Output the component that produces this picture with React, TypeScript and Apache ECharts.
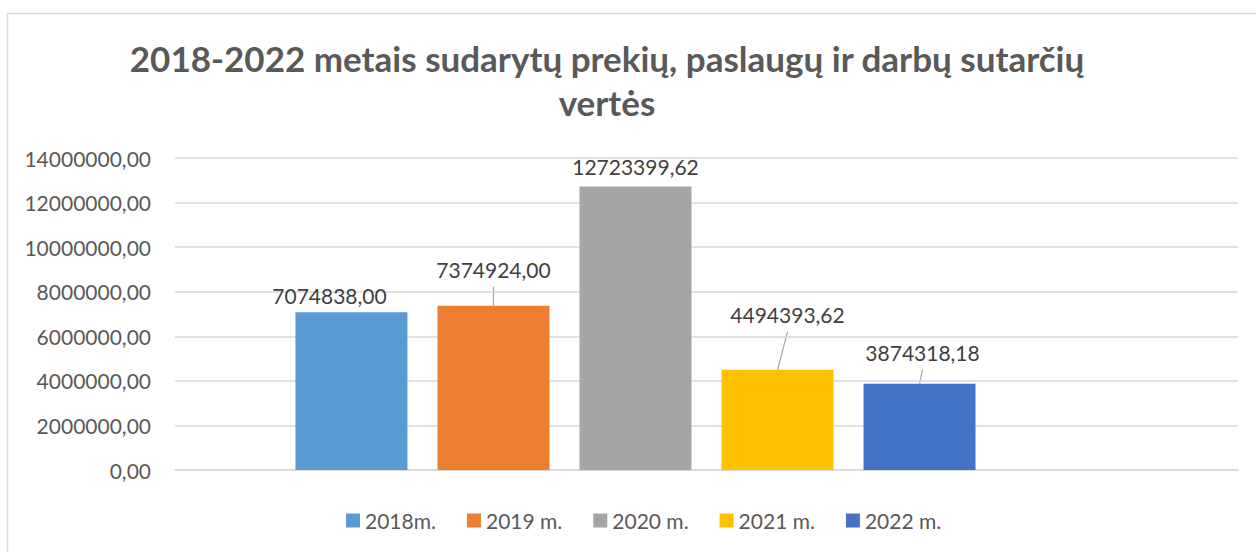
import React, { useEffect, useRef } from 'react';
import * as echarts from 'echarts';

const TITLE_LINES = ['2018-2022 metais sudarytų prekių, paslaugų ir darbų sutarčių', 'vertės'];
const CATEGORIES = [''];
const SERIES_NAMES = ['2018m.', '2019 m.', '2020 m.', '2021 m.', '2022 m.'];
const VALUES = [7074838.0, 7374924.0, 12723399.62, 4494393.62, 3874318.18];
const COLORS = ['#5b9bd5', '#ed7d31', '#a5a5a5', '#ffc000', '#4472c4'];
const Y_MIN = 0;
const Y_MAX = 14000000;
const Y_STEP = 2000000;

// label displacement (Excel moved labels) – layout only: [dx, dy, showLeader]
const LABEL_SHIFT: [number, number, boolean][] = [
  [-22, -1, false],
  [0, -21, true],
  [0, -4, false],
  [10, -40, true],
  [3, -16, true],
];

const fmt = (v: number) => v.toFixed(2).replace('.', ',');
const FONT = 'Lato, Carlito, "Noto Sans", sans-serif';

export default function App() {
  const ref = useRef<HTMLDivElement>(null);
  useEffect(() => {
    if (!ref.current) return;
    const chart = echarts.init(ref.current, undefined, { renderer: 'svg' });
    const series: any[] = SERIES_NAMES.map((name, i) => {
      const [dx, dy] = LABEL_SHIFT[i];
      return {
        name,
        type: 'bar',
        data: [VALUES[i]],
        barWidth: 112,
        barGap: '26.8%',
        itemStyle: { color: COLORS[i] },
        label: {
          show: true,
          position: 'top',
          distance: 5,
          formatter: (p: any) => fmt(p.value),
          color: '#404040',
          fontSize: 21,
          fontFamily: FONT,
        },
        labelLayout: { dx, dy },
      };
    });
    series.push({
      name: 'empty',
      type: 'bar',
      data: ['-'],
      barWidth: 112,
      barGap: '26.8%',
    });
    const baseGraphic: any[] = [
      {
        id: 'frame',
        type: 'rect',
        shape: { x: 7.5, y: 13.5, width: 1300, height: 600 },
        style: { fill: 'none', stroke: '#d9d9d9', lineWidth: 1.5 },
        silent: true,
      },
      {
        id: 'title1',
        type: 'text',
        x: 607,
        y: 58,
        style: {
          text: TITLE_LINES[0],
          fill: '#595959',
          font: `bold 35px ${FONT}`,
          textAlign: 'center',
          textVerticalAlign: 'middle',
        },
      },
      {
        id: 'title2',
        type: 'text',
        x: 607,
        y: 102,
        style: {
          text: TITLE_LINES[1],
          fill: '#595959',
          font: `bold 35px ${FONT}`,
          textAlign: 'center',
          textVerticalAlign: 'middle',
        },
      },
    ];
    chart.setOption({
      animation: false,
      textStyle: { fontFamily: FONT },
      graphic: baseGraphic,
      legend: {
        data: SERIES_NAMES,
        left: 341,
        top: 505,
        itemWidth: 14,
        itemHeight: 14,
        itemGap: 31,
        icon: 'rect',
        textStyle: { color: '#595959', fontSize: 21, fontFamily: FONT },
      },
      grid: { left: 175, right: 18, top: 158, bottom: 82, containLabel: false },
      xAxis: {
        type: 'category',
        data: CATEGORIES,
        axisLine: { show: true, lineStyle: { color: '#d9d9d9', width: 1.5 } },
        axisTick: { show: false },
        axisLabel: { show: false },
      },
      yAxis: {
        type: 'value',
        min: Y_MIN,
        max: Y_MAX,
        interval: Y_STEP,
        axisLine: { show: false },
        axisTick: { show: false },
        splitLine: { lineStyle: { color: '#d9d9d9', width: 1.5 } },
        axisLabel: {
          formatter: (v: number) => fmt(v),
          color: '#595959',
          fontSize: 21,
          fontFamily: FONT,
          margin: 24,
        },
      },
      series,
    });

    // leader lines from the bar tops (as laid out by ECharts) to the moved labels
    try {
      const model = (chart as any).getModel();
      const leaders: any[] = [];
      SERIES_NAMES.forEach((_, i) => {
        const [dx, dy, show] = LABEL_SHIFT[i];
        if (!show) return;
        const lay = model.getSeriesByIndex(i).getData().getItemLayout(0);
        if (!lay) return;
        const top = Math.min(lay.y, lay.y + lay.height);
        const cx = lay.x + lay.width / 2;
        leaders.push({
          id: 'leader' + i,
          type: 'line',
          silent: true,
          shape: { x1: cx, y1: top, x2: cx + dx, y2: top + dy + 2 },
          style: { stroke: '#a6a6a6', lineWidth: 1.2 },
        });
      });
      chart.setOption({ graphic: [...baseGraphic, ...leaders] });
    } catch (e) {
      // ignore
    }
    return () => chart.dispose();
  }, []);
  return (
    <div
      ref={ref}
      style={{ position: 'absolute', left: 0, top: 0, width: 1256, height: 552, background: '#fff' }}
    />
  );
}
